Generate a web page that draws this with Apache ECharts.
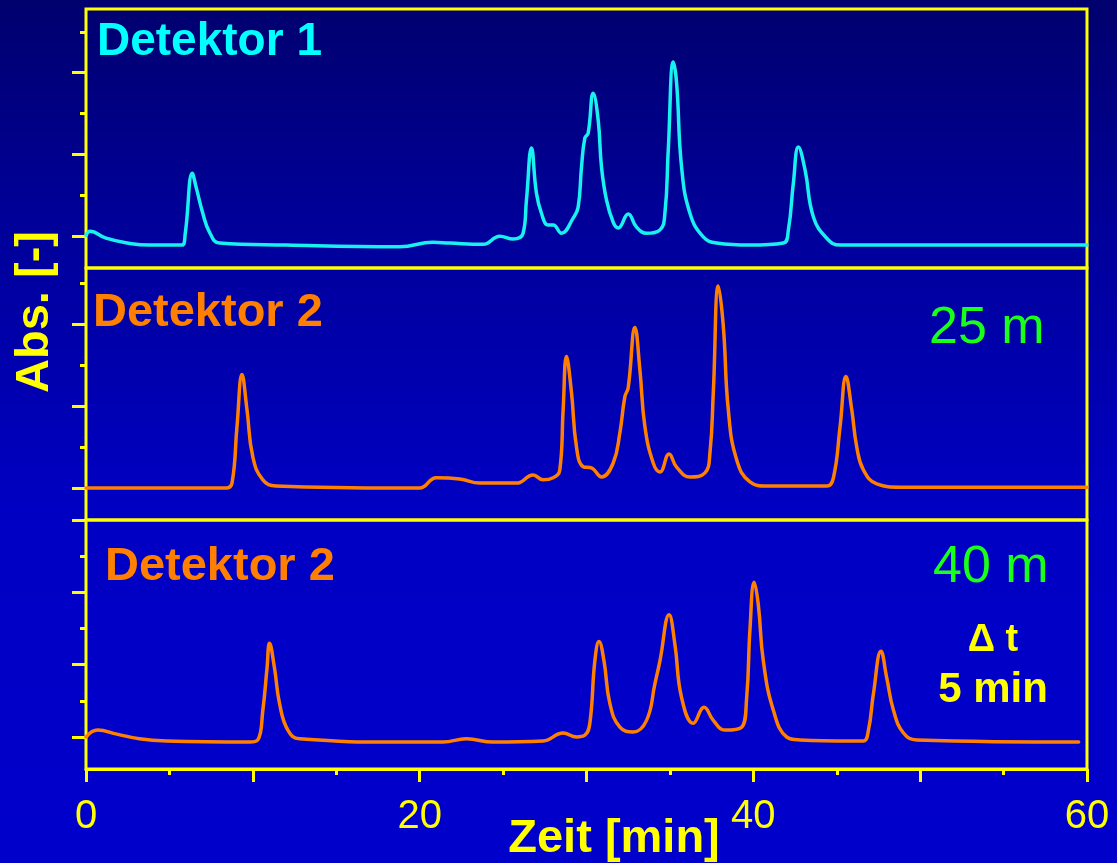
<!DOCTYPE html>
<html>
<head>
<meta charset="utf-8">
<title>Detektor 1 / Detektor 2</title>
<style>
html,body{margin:0;padding:0;background:#000080;}
#main{width:1117px;height:863px;}
</style>
</head>
<body>
<div id="main"></div>
<script src="https://cdn.jsdelivr.net/npm/echarts@6/dist/echarts.min.js"></script>
<script type="text/javascript">
// Zeit in min, Abs. in Teilstrich-Einheiten (0 = unterster langer Teilstrich)
var det1Zeit = [0, 0.24, 1.2, 2.5, 3.8, 5.75, 5.95, 6.37, 6.6, 7.0, 7.4, 8.0, 12, 18.8, 20.8, 21.8, 23.8, 24.8, 25.6, 26.2, 26.4, 26.7, 27.0, 27.3, 27.7, 28.0, 28.5, 29.2, 29.5, 29.7, 29.9, 30.1, 30.4, 30.7, 30.9, 31.2, 31.6, 31.9, 32.5, 33.0, 33.6, 34.4, 34.7, 34.9, 35.2, 35.4, 35.7, 36.2, 37.0, 37.8, 39.8, 41.8, 42.1, 42.4, 42.7, 43.1, 43.6, 44.4, 45.2, 60];
var det1Abs  = [0.02, 0.12, -0.05, -0.17, -0.22, -0.22, 0.07, 1.54, 1.2, 0.56, 0.1, -0.17, -0.22, -0.26, -0.15, -0.17, -0.2, 0.0, -0.07, 0.07, 0.88, 2.16, 1.05, 0.56, 0.27, 0.27, 0.07, 0.44, 0.71, 1.69, 2.4, 2.52, 3.5, 2.84, 1.69, 0.88, 0.34, 0.2, 0.54, 0.22, 0.07, 0.15, 0.56, 2.1, 4.26, 3.75, 1.69, 0.56, -0.02, -0.17, -0.22, -0.17, 0.15, 1.3, 2.18, 1.62, 0.47, -0.05, -0.22, -0.22];

var det2aZeit = [0, 8.4, 8.75, 9.05, 9.35, 9.65, 10.0, 10.6, 11.4, 18.8, 20.0, 21.0, 22.4, 23.6, 25.8, 26.8, 27.4, 28.0, 28.4, 28.6, 28.8, 29.1, 29.4, 29.8, 30.3, 30.9, 31.6, 32.0, 32.3, 32.5, 32.9, 33.2, 33.5, 34.0, 34.4, 34.95, 35.4, 36.2, 37.1, 37.4, 37.6, 37.9, 38.2, 38.5, 39.0, 39.8, 40.8, 44.4, 44.8, 45.2, 45.55, 45.9, 46.2, 46.6, 47.4, 48.8, 60];
var det2aAbs  = [0, 0, 0.12, 1.5, 2.77, 1.91, 0.76, 0.2, 0.05, 0, 0, 0.25, 0.22, 0.12, 0.12, 0.32, 0.2, 0.25, 0.44, 1.91, 3.21, 2.33, 1.0, 0.52, 0.49, 0.27, 0.61, 1.35, 2.23, 2.45, 3.92, 2.89, 1.5, 0.61, 0.39, 0.83, 0.51, 0.27, 0.37, 0.86, 2.33, 4.93, 3.95, 1.91, 0.69, 0.15, 0.05, 0.05, 0.25, 1.5, 2.72, 1.91, 1.0, 0.44, 0.1, 0.02, 0.02];

var det2bZeit = [0, 0.7, 1.85, 3.2, 4.85, 9.8, 10.3, 10.6, 10.85, 11.0, 11.3, 11.6, 12.1, 12.8, 18.8, 21.4, 22.8, 24.4, 27.4, 28.6, 29.4, 29.9, 30.2, 30.5, 30.75, 31.05, 31.4, 32.0, 32.8, 33.6, 34.1, 34.4, 34.95, 35.3, 35.7, 36.4, 37.05, 37.6, 38.3, 39.3, 39.6, 39.8, 40.05, 40.3, 40.6, 41.2, 42.0, 42.8, 45.8, 46.6, 46.9, 47.2, 47.65, 48.0, 48.4, 49.0, 49.8, 59.5];
var det2bAbs  = [0, 0.19, 0.08, -0.05, -0.11, -0.14, -0.08, 0.74, 1.9, 2.59, 1.9, 0.93, 0.19, -0.05, -0.14, -0.14, -0.05, -0.14, -0.11, 0.11, 0, 0.05, 0.38, 2.1, 2.64, 2.1, 0.93, 0.27, 0.14, 0.46, 1.47, 2.1, 3.38, 2.56, 1.09, 0.38, 0.82, 0.46, 0.19, 0.27, 1.09, 2.99, 4.28, 3.65, 2.1, 0.74, 0, -0.08, -0.11, -0.11, 0.19, 1.2, 2.37, 1.63, 0.74, 0.11, -0.08, -0.14];

var xLabels = [0, 20, 40, 60];
var yLang = [0, 2, 4];
var yKurz = [1, 3, 5];
var yLang3 = [0, 2, 4, 6];

function paare(t, v) {
    var out = [];
    for (var i = 0; i < t.length; i++) out.push([t[i], v[i]]);
    return out;
}

var gelb = '#ffff00';
var schrift = '"Liberation Sans", Arial, sans-serif';

var grids = [
    {left: 86, right: 30, top: 9, height: 259},
    {left: 86, right: 30, top: 268, height: 252},
    {left: 86, right: 30, top: 520, height: 249}
];
grids.forEach(function (g) {
    g.show = true;
    g.borderColor = gelb;
    g.borderWidth = 3;
    g.backgroundColor = 'transparent';
    g.containLabel = false;
});

var yRange = [[-0.78, 5.56], [-0.78, 5.37], [-0.885, 6]];

function xAchse(i) {
    var a = {
        type: 'value', gridIndex: i, min: 0, max: 60, interval: 10,
        splitLine: {show: false}
    };
    if (i < 2) {
        a.show = false;
        return a;
    }
    a.axisLine = {show: true, onZero: false, lineStyle: {color: gelb, width: 3}};
    a.axisTick = {show: true, length: 13, lineStyle: {color: gelb, width: 3}};
    a.minorTick = {show: true, splitNumber: 2, length: 6, lineStyle: {color: gelb, width: 3}};
    a.minorSplitLine = {show: false};
    a.axisLabel = {
        show: true, color: gelb, fontSize: 40, fontFamily: schrift, margin: 28,
        formatter: function (v) { return xLabels.indexOf(v) >= 0 ? String(v) : ''; }
    };
    return a;
}

function yAchse(i, werte, len) {
    return {
        type: 'value', gridIndex: i, position: 'left',
        min: yRange[i][0], max: yRange[i][1],
        axisLine: {show: false},
        splitLine: {show: false},
        axisLabel: {show: false},
        axisTick: {show: true, length: len, customValues: werte, lineStyle: {color: gelb, width: 3}}
    };
}

function kurve(name, xi, yi, zeit, abs, farbe) {
    return {
        name: name, type: 'line', xAxisIndex: xi, yAxisIndex: yi,
        data: paare(zeit, abs), showSymbol: false, smooth: 0.45,
        lineStyle: {color: farbe, width: 3.5, join: 'round', cap: 'round'}
    };
}

var myChart = echarts.init(document.getElementById('main'));
var option = {
    animation: false,
    backgroundColor: 'transparent',
    grid: grids,
    xAxis: [xAchse(0), xAchse(1), xAchse(2)],
    yAxis: [
        yAchse(0, yLang, 14), yAchse(0, yKurz, 6),
        yAchse(1, yLang, 14), yAchse(1, yKurz, 6),
        yAchse(2, yLang3, 14), yAchse(2, yKurz, 6)
    ],
    series: [
        kurve('Detektor 1', 0, 0, det1Zeit, det1Abs, '#19f0f0'),
        kurve('Detektor 2 (25 m)', 1, 2, det2aZeit, det2aAbs, '#ff8000'),
        kurve('Detektor 2 (40 m)', 2, 4, det2bZeit, det2bAbs, '#ff8000')
    ],
    graphic: [
        {
            type: 'rect', z: -10, silent: true,
            shape: {x: 0, y: 0, width: 1117, height: 863},
            style: {fill: {type: 'linear', x: 0, y: 0, x2: 0, y2: 1, colorStops: [
                {offset: 0, color: '#00006e'},
                {offset: 0.25, color: '#000098'},
                {offset: 0.6, color: '#0000c4'},
                {offset: 1, color: '#0000cc'}
            ]}}
        },
        {type: 'text', x: 97, y: 42, style: {text: 'Detektor 1', fill: '#00ffff', font: 'bold 46px ' + schrift, verticalAlign: 'middle'}},
        {type: 'text', x: 93, y: 313, style: {text: 'Detektor 2', fill: '#ff8000', font: 'bold 47px ' + schrift, verticalAlign: 'middle'}},
        {type: 'text', x: 105, y: 567, style: {text: 'Detektor 2', fill: '#ff8000', font: 'bold 47px ' + schrift, verticalAlign: 'middle'}},
        {type: 'text', x: 929, y: 329, style: {text: '25 m', fill: '#1aff1a', font: '52px ' + schrift, verticalAlign: 'middle'}},
        {type: 'text', x: 933, y: 568, style: {text: '40 m', fill: '#1aff1a', font: '52px ' + schrift, verticalAlign: 'middle'}},
        {type: 'text', x: 993, y: 641, style: {text: '\u0394 t', fill: gelb, font: 'bold 38px ' + schrift, align: 'center', verticalAlign: 'middle'}},
        {type: 'text', x: 993, y: 690, style: {text: '5 min', fill: gelb, font: 'bold 42px ' + schrift, align: 'center', verticalAlign: 'middle'}},
        {type: 'text', x: 614, y: 839, style: {text: 'Zeit [min]', fill: gelb, font: 'bold 47px ' + schrift, align: 'center', verticalAlign: 'middle'}},
        {type: 'text', x: 35, y: 312, rotation: Math.PI / 2, style: {text: 'Abs. [-]', fill: gelb, font: 'bold 47px ' + schrift, align: 'center', verticalAlign: 'middle'}}
    ]
};
myChart.setOption(option);
</script>
</body>
</html>
